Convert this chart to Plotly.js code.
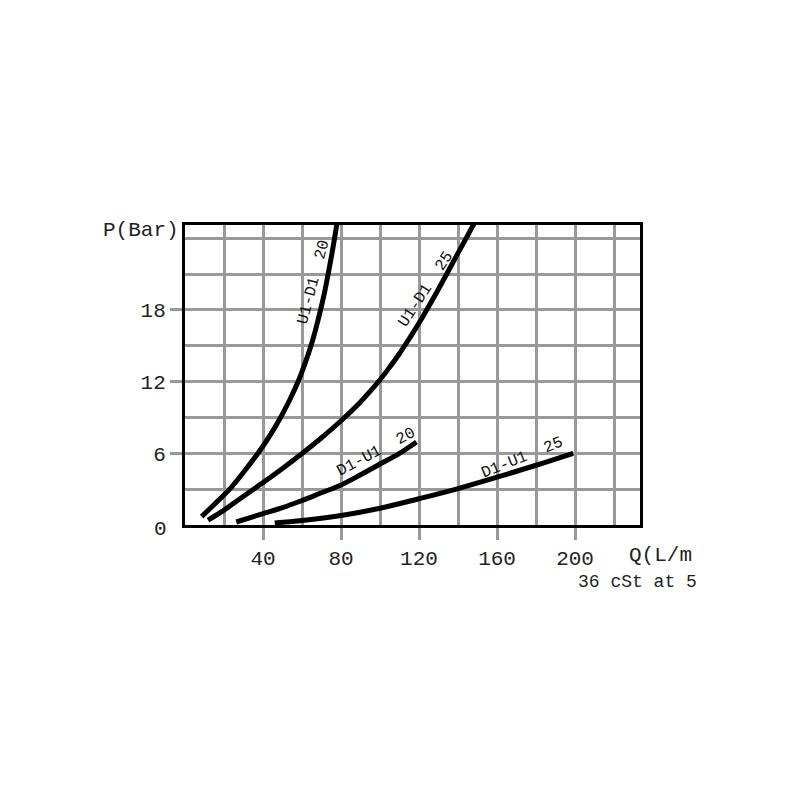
<!DOCTYPE html>
<html>
<head>
<meta charset="utf-8">
<script src="https://cdn.plot.ly/plotly-3.0.1.min.js"></script>
<style>html,body{margin:0;padding:0;background:#fff;}#chart{width:800px;height:800px;}</style>
</head>
<body>
<div id="chart"></div>
<script>
// Curve data: Q (L/min) vs P (Bar)
const seriesNames = ["U1-D1  20", "U1-D1  25", "D1-U1  20", "D1-U1  25"];
const u1d1_20_q = [8.5, 15.5, 22.9, 30.4, 37.4, 43.6, 49.0, 53.8, 58.0, 61.5, 64.6, 67.2, 69.5, 71.6, 73.4, 75.1, 76.7, 78.1];
const u1d1_20_p = [0.7, 1.8, 3.0, 4.5, 6.0, 7.5, 9.0, 10.5, 12.0, 13.5, 15.0, 16.5, 18.0, 19.5, 21.0, 22.5, 24.0, 25.4];
const u1d1_25_q = [11.8, 20, 30, 40, 50, 60, 70, 80, 90, 95, 100, 105, 110, 115, 120, 130, 140, 148.5];
const u1d1_25_p = [0.4, 1.25, 2.4, 3.55, 4.73, 5.98, 7.3, 8.72, 10.3, 11.2, 12.15, 13.22, 14.35, 15.6, 16.9, 19.75, 22.75, 25.3];
const d1u1_20_q = [26.3, 40, 50, 60, 70, 80, 90, 100, 110, 118.7];
const d1u1_20_p = [0.25, 0.95, 1.45, 2.05, 2.7, 3.35, 4.2, 5.1, 6.0, 6.95];
const d1u1_25_q = [46, 60, 80, 100, 120, 140, 160, 180, 199];
const d1u1_25_p = [0.17, 0.38, 0.8, 1.4, 2.2, 3.05, 4.0, 5.0, 6.0];

const xTickVals = [40, 80, 120, 160, 200];
const xTickText = ["40", "80", "120", "160", "200"];
const yTickVals = [0, 6, 12, 18];
const yTickText = ["0", "6", "12", "18"];

const xAxisLabel = "Q(L/m";
const yAxisLabel = "P(Bar)";
const noteText = "36 cSt at 5";

const FONT = "Liberation Mono, Courier New, monospace";
const lineStyle = {color: "#000", width: 5, shape: "spline", smoothing: 1};

const qs = [u1d1_20_q, u1d1_25_q, d1u1_20_q, d1u1_25_q];
const ps = [u1d1_20_p, u1d1_25_p, d1u1_20_p, d1u1_25_p];
const traces = qs.map((q, i) => ({
  x: q, y: ps[i], type: "scatter", mode: "lines", name: seriesNames[i],
  line: lineStyle, hoverinfo: "skip"
}));

// label placement along curves (slightly offset to the upper-left side of each curve)
const labelPos = [
  {x: 67.2, y: 20.3, a: -75, dx: -2, dy: 0},
  {x: 124.9, y: 19.5, a: -57, dx: -3, dy: 2},
  {x: 99.2, y: 5.77, a: -28, dx: -2, dy: 4},
  {x: 173.6, y: 5.28, a: -22, dx: -1.5, dy: 4}
];
const annotations = seriesNames.map((t, i) => ({
  x: labelPos[i].x, y: labelPos[i].y, xref: "x", yref: "y",
  xshift: labelPos[i].dx, yshift: labelPos[i].dy,
  text: t.replace(/ /g, "\u00a0"), showarrow: false, textangle: labelPos[i].a,
  font: {family: FONT, size: 16, color: "#111"}
}));
// the zero label on the y axis carries no tick mark in the reference
annotations.push({
  x: -0.035, y: yTickVals[0], xref: "paper", yref: "y", xanchor: "right", yanchor: "middle",
  yshift: -4, text: yTickText[0], showarrow: false, font: {family: FONT, size: 21, color: "#222"}
});
annotations.push(
  {x: -0.008, y: 0.983, xref: "paper", yref: "paper", xanchor: "right", yanchor: "middle",
   text: yAxisLabel, showarrow: false, font: {family: FONT, size: 21, color: "#222"}},
  {x: 0.972, y: -0.103, xref: "paper", yref: "paper", xanchor: "left", yanchor: "middle",
   text: xAxisLabel, showarrow: false, font: {family: FONT, size: 21, color: "#222"}},
  {x: 1.13, y: -0.19, xref: "paper", yref: "paper", xanchor: "right", yanchor: "middle",
   text: noteText.replace(/ /g, "\u00a0"), showarrow: false, font: {family: FONT, size: 18, color: "#222"}}
);

const layout = {
  width: 800, height: 800,
  margin: {l: 185, r: 160, t: 225, b: 275, pad: 0},
  paper_bgcolor: "#fff", plot_bgcolor: "#fff",
  showlegend: false,
  font: {family: FONT, size: 21, color: "#222"},
  xaxis: {
    range: [0, 233.3], tickmode: "array", tickvals: xTickVals, ticktext: xTickText,
    ticks: "outside", ticklen: 12, tickwidth: 3, tickcolor: "#999",
    showgrid: true, gridcolor: "#999", gridwidth: 3,
    minor: {dtick: 20, tick0: 0, showgrid: true, gridcolor: "#999", gridwidth: 3},
    showline: true, linecolor: "#000", linewidth: 3, mirror: true,
    zeroline: false, tickfont: {family: FONT, size: 21, color: "#222"}
  },
  yaxis: {
    range: [0, 25.1], tickmode: "array", tickvals: yTickVals.slice(1), ticktext: yTickText.slice(1),
    ticks: "outside", ticklen: 12, tickwidth: 3, tickcolor: "#999",
    showgrid: true, gridcolor: "#999", gridwidth: 3,
    minor: {dtick: 3, tick0: 0, showgrid: true, gridcolor: "#999", gridwidth: 3},
    showline: true, linecolor: "#000", linewidth: 3, mirror: true,
    zeroline: false, tickfont: {family: FONT, size: 21, color: "#222"}
  },
  annotations: annotations
};

Plotly.newPlot("chart", traces, layout, {staticPlot: true, displayModeBar: false});
</script>
</body>
</html>
